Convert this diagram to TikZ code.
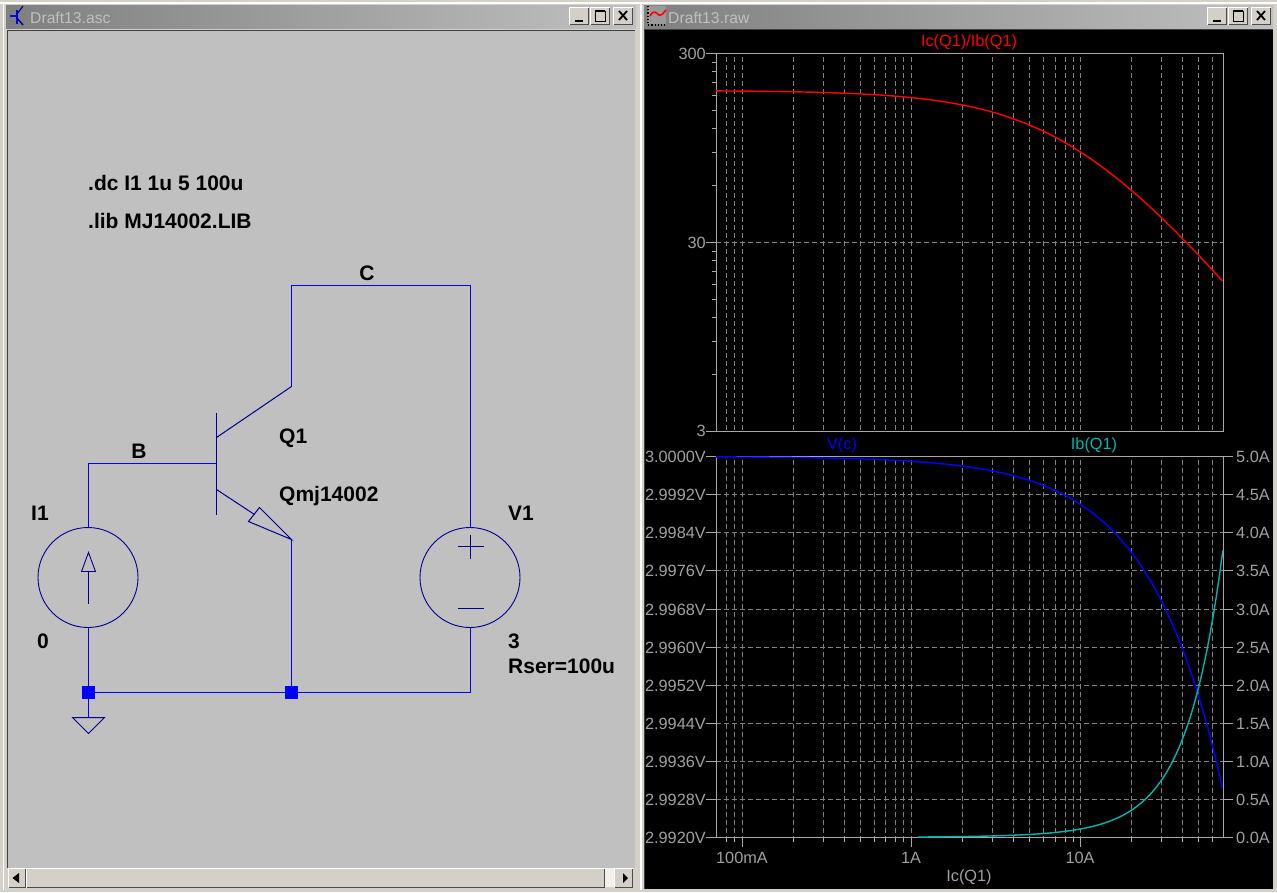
\documentclass[tikz,border=0pt]{standalone}
\usepackage{fontspec}
\setmainfont{Liberation Sans}
\definecolor{frameC}{HTML}{D4D0C8}
\definecolor{canvasC}{HTML}{C0C0C0}
\definecolor{wireC}{HTML}{0000FF}
\definecolor{partC}{HTML}{000090}
\definecolor{gridC}{HTML}{808080}
\definecolor{axisC}{HTML}{A8A8A8}
\definecolor{tickC}{HTML}{A0A0A0}
\definecolor{tealC}{HTML}{00B4B4}
\definecolor{redC}{HTML}{FF0000}
\newcommand{\winBtn}[4]{%
  \fill[frameC] (#1,#2) rectangle ++(#3,#4);
  \draw[white,line width=1pt] (#1+.5,#2+#4-.5) -- (#1+.5,#2+.5) -- (#1+#3-.5,#2+.5);
  \draw[black!70,line width=1pt] (#1+.5,#2+#4-.5) -- (#1+#3-.5,#2+#4-.5) -- (#1+#3-.5,#2+.5);
}
\newcommand{\winCtl}[1]{%
  \winBtn{#1}{7}{20}{18}
  \winBtn{#1+21}{7}{20}{18}
  \winBtn{#1+44}{7}{20}{18}
  \draw[black,line width=2pt] (#1+6,20.5) -- (#1+14,20.5);
  \draw[black,line width=1pt] (#1+26,11) rectangle (#1+36,21);
  \draw[black,line width=1.4pt] (#1+26,10.5) -- (#1+36,10.5);
  \draw[black,line width=1.8pt] (#1+50,11) -- (#1+58,20) (#1+58,11) -- (#1+50,20);
}
\tikzset{
  x=1pt,y=-1pt,
  declare function={
    icur(\t)=pow(10,\t);
    betaf(\t)=1+0.09*pow(icur(\t),1.09);
  },
  wirepath/.style={draw=wireC,line width=1pt},
  part/.style={draw=partC,line width=1pt},
  thinpart/.style={draw=partC,line width=.9pt},
  junction/.style={fill=wireC,draw=none,minimum size=13pt,inner sep=0pt,shape=rectangle},
  srccircle/.style={shape=circle,draw=partC,line width=.9pt,minimum size=100pt,inner sep=0pt},
  schlabel/.style={font=\fontsize{21}{22}\selectfont\bfseries,text=black,anchor=west,inner sep=0pt},
  winlabel/.style={font=\fontsize{15.7}{16}\selectfont,text=canvasC,anchor=west,inner sep=0pt},
  ticklabel/.style={font=\fontsize{16.3}{17}\selectfont,text=tickC,inner sep=0pt},
  gridline/.style={draw=gridC,line width=1pt,dash pattern=on 5pt off 3pt},
  axisline/.style={draw=axisC,line width=1pt},
  trace/.style={line width=1.4pt,line join=round}
}
\begin{document}
\begin{tikzpicture}
\useasboundingbox (0,0) rectangle (1277,892);
% window frames
\fill[frameC] (0,0) rectangle (1277,892);
\fill[white!95!frameC] (0,2) rectangle (1277,3.5);
\fill[white!95!frameC] (2.5,3) rectangle (4,890);
\fill[white!95!frameC] (640,3) rectangle (642,890);
\shade[left color=black!50,right color=canvasC] (6,5) rectangle (636,28);
\shade[left color=black!50,right color=canvasC] (644,5) rectangle (1273,28);
\node[winlabel] (lefttitle) at (30,17.5) {Draft13.asc};
\node[winlabel] (righttitle) at (668,17.5) {Draft13.raw};
\winCtl{569}
\winCtl{1207}
% title icons
\draw[wireC,line width=2pt] (17,10) -- (17,24);
\draw[wireC,line width=2pt] (10,16) -- (17,16);
\draw[partC,line width=1.2pt] (17,14) -- (23,6);
\draw[partC,line width=1.4pt] (17,18) -- (23,25);
\fill[canvasC!80!black] (648,6) rectangle (666,24);
\draw[black,dotted,line width=1.2pt] (648,6) -- (648,25) -- (666,25);
\draw[redC,line width=1.6pt] (650,16) .. controls (654,9) and (656,13) .. (659,15) .. controls (662,16) and (664,12) .. (666,10);
% schematic canvas
\fill[canvasC] (8,31) rectangle (635,868);
\draw[black!75,line width=1pt] (7.5,868) -- (7.5,30.5) -- (635,30.5);
% scrollbar
\fill[white!70!frameC] (605,868) rectangle (614,887);
\winBtn{8}{868}{18}{20}
\winBtn{26}{868}{579}{20}
\winBtn{614}{868}{19}{20}
\fill[black] (12.5,878) -- (19,873) -- (19,883) -- cycle;
\fill[black] (628,878) -- (623,873) -- (623,883) -- cycle;
% plot background
\fill[black] (645,30) rectangle (1273,889);
\draw[black!75,line width=1pt] (644.5,889) -- (644.5,29.5) -- (1273,29.5);
% schematic
\begin{scope}[shift={(0.5,0.5)}]
\coordinate (cTopL) at (291,285);
\coordinate (cTopR) at (470,285);
\coordinate (colEnd) at (291,386);
\coordinate (colBar) at (216,437);
\coordinate (baseL) at (88,463);
\coordinate (baseBar) at (216,463);
\coordinate (barTop) at (216,412);
\coordinate (barBot) at (216,514);
\coordinate (emiBar) at (216,489);
\coordinate (emiTri) at (254,514);
\coordinate (emiTip) at (291,539);
\coordinate (triA) at (259,507);
\coordinate (triB) at (248,521);
\coordinate (gndTop) at (88,717);
\node[srccircle] (I1src) at (87.5,577) {};
\node[srccircle] (V1src) at (469.5,577) {};
\node[junction] (j1) at (88,692) {};
\node[junction] (j2) at (291,692) {};
\draw[wirepath] (colEnd) -- (cTopL) -- (cTopR) -- (cTopR |- V1src.north);
\draw[wirepath] (baseBar) -- (baseL) -- (baseL |- I1src.north);
\draw[wirepath] (emiTip) -- (j2);
\draw[wirepath] (gndTop |- I1src.south) -- (gndTop);
\draw[wirepath] (j1) -- (j2) -| (cTopR |- V1src.south);
\draw[part] (barTop) -- (barBot);
\draw[part] (colBar) -- (colEnd);
\draw[part] (emiBar) -- (emiTri);
\draw[part] (emiTip) -- (triA) -- (triB) -- cycle;
\draw[part] (72,717) -- (104,717) -- (88,733) -- cycle;
% I1 arrow
\draw[thinpart] (88,603) -- (88,571);
\draw[thinpart] (81,571) -- (88,552) -- (95,571) -- cycle;
% V1 signs
\draw[thinpart] (457,546) -- (483,546) (470,534) -- (470,558);
\draw[thinpart] (457,608) -- (483,608);
\end{scope}
% schematic labels
\node[schlabel] (dc) at (88,183) {.dc I1 1u 5 100u};
\node[schlabel] (lib) at (88,221) {.lib MJ14002.LIB};
\node[schlabel,anchor=center] (lC) at (367,273) {C};
\node[schlabel,anchor=center] (lB) at (139,451) {B};
\node[schlabel] (lQ1) at (279,438) {Q1};
\node[schlabel] (lQm) at (279,496) {Qmj14002};
\node[schlabel] (lI1) at (31,513.5) {I1};
\node[schlabel] (l0) at (37,641) {0};
\node[schlabel] (lV1) at (508,513.5) {V1};
\node[schlabel] (l3) at (508,641) {3};
\node[schlabel] (lR) at (508,666) {Rser=100u};
% vertical grid
\foreach \gx in {726,734,742,793,823,844,860,874,885,895,903,911,962,992,1013,1029,1043,1055,1065,1073,1080,1131,1161,1182,1198,1212}{
  \draw[gridline] (\gx.5,57) -- (\gx.5,431);
  \draw[gridline] (\gx.5,460) -- (\gx.5,837);
  \draw[axisline] (\gx.5,837) -- (\gx.5,841.5);
}
\foreach \gx in {742,911,1080}{\draw[axisline] (\gx.5,837) -- (\gx.5,846.5);}
% horizontal grid
\draw[gridline] (716,242.5) -- (1223,242.5);
\foreach \gy in {494,532,570,609,647,685,723,761,799}{
  \draw[gridline] (716,\gy.5) -- (1223,\gy.5);
}
% frames
\draw[axisline] (706,53.5) -- (1223.5,53.5) -- (1223.5,431.5) -- (706,431.5);
\draw[axisline] (716.5,53.5) -- (716.5,431.5);
\draw[axisline] (706,242.5) -- (716,242.5);
\draw[axisline] (706,456.5) -- (1233,456.5);
\draw[axisline] (706,837.5) -- (1233,837.5);
\draw[axisline] (716.5,456.5) -- (716.5,837.5);
\draw[axisline] (1223.5,456.5) -- (1223.5,837.5);
\foreach \gy in {62,71,82,95,110,128,152,185,251,260,271,284,299,317,341,374}{
  \draw[axisline] (712,\gy.5) -- (716,\gy.5);
}
\foreach \gy in {494,532,570,609,647,685,723,761,799}{
  \draw[axisline] (706,\gy.5) -- (716,\gy.5);
  \draw[axisline] (1223,\gy.5) -- (1233,\gy.5);
}
% traces
\draw[trace,redC] plot[domain=-1.154:1.846,samples=200] ({911+169*\x},{90.5+189*log10(betaf(\x))});
\draw[trace,wireC] plot[domain=-1.154:1.846,samples=200] ({911+169*\x},{456.5+4.7625*icur(\x)});
\draw[trace,tealC] plot[domain=0.04:1.846,samples=140] ({911+169*\x},{837.5-0.40105*icur(\x)*betaf(\x)});
% trace titles
\node[ticklabel,text=redC] (tRatio) at (969,42) {Ic(Q1)/Ib(Q1)};
\node[ticklabel,text=wireC] (tVc) at (842,445) {V(c)};
\node[ticklabel,text=tealC] (tIb) at (1094,445) {Ib(Q1)};
% axis labels
\node[ticklabel,anchor=east] (y300) at (706,54) {300};
\node[ticklabel,anchor=east] (y30) at (706,243) {30};
\node[ticklabel,anchor=east] (y3) at (706,431) {3};
\foreach \yy/\ll/\rr in {456/3.0000V/5.0A,494/2.9992V/4.5A,532/2.9984V/4.0A,570/2.9976V/3.5A,609/2.9968V/3.0A,647/2.9960V/2.5A,685/2.9952V/2.0A,723/2.9944V/1.5A,761/2.9936V/1.0A,799/2.9928V/0.5A,837/2.9920V/0.0A}{
  \node[ticklabel,anchor=east] at (706,\yy.5) {\ll};
  \node[ticklabel,anchor=west] at (1236,\yy.5) {\rr};
}
\node[ticklabel] (x1) at (742,858) {100mA};
\node[ticklabel] (x2) at (911,858) {1A};
\node[ticklabel] (x3) at (1080,858) {10A};
\node[ticklabel] (xlab) at (969,877) {Ic(Q1)};
\end{tikzpicture}
\end{document}
